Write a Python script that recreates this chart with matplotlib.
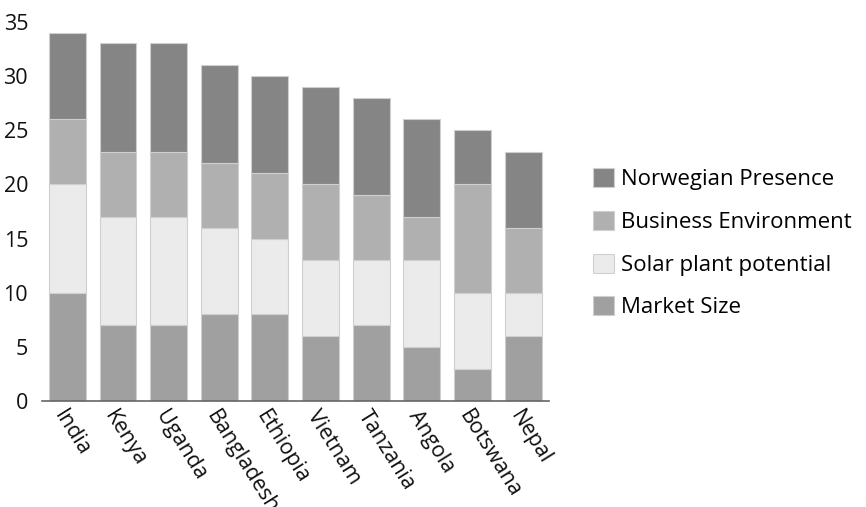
import numpy as np
import matplotlib.pyplot as plt

plt.rcParams['font.family'] = ['Open Sans', 'DejaVu Sans']

countries = ['India', 'Kenya', 'Uganda', 'Bangladesh', 'Ethiopia',
             'Vietnam', 'Tanzania', 'Angola', 'Botswana', 'Nepal']
market_size = [10, 7, 7, 8, 8, 6, 7, 5, 3, 6]
solar_potential = [10, 10, 10, 8, 7, 7, 6, 8, 7, 4]
business_env = [6, 6, 6, 6, 6, 7, 6, 4, 10, 6]
norwegian = [8, 10, 10, 9, 9, 9, 9, 9, 5, 7]

series = [
    ('Market Size', market_size, '#a0a0a0'),
    ('Solar plant potential', solar_potential, '#ebebeb'),
    ('Business Environment', business_env, '#b0b0b0'),
    ('Norwegian Presence', norwegian, '#858585'),
]

fig = plt.figure(figsize=(8.66, 5.07), dpi=100)
ax = fig.add_axes([0.0485, 0.209, 0.585, 0.748])

x = np.arange(len(countries))
bottom = np.zeros(len(countries))
handles = []
for name, vals, col in series:
    b = ax.bar(x, vals, 0.73, bottom=bottom, color=col,
               edgecolor='#cfcfcf', linewidth=0.8, label=name)
    handles.append(b)
    bottom += np.array(vals)

ax.set_xlim(-0.5, 9.5)
ax.set_ylim(0, 35)
ax.set_yticks(range(0, 36, 5))
ax.set_xticks(x)
ax.set_xticklabels(countries, rotation=-58, ha='left', va='top',
                   rotation_mode='anchor')
ax.tick_params(length=0, labelsize=15.5, colors='#111111')
ax.tick_params(axis='y', pad=10)
ax.tick_params(axis='x', pad=4)
for s in ['top', 'right', 'left']:
    ax.spines[s].set_visible(False)
ax.spines['bottom'].set_color('#666666')
ax.spines['bottom'].set_linewidth(1.2)

leg = fig.legend(handles[::-1], [s[0] for s in series][::-1],
                 loc='center left', bbox_to_anchor=(0.662, 0.52),
                 frameon=False, fontsize=16, handlelength=0.95,
                 handleheight=0.95, handletextpad=0.3, labelspacing=0.92)

fig.savefig('out.png', dpi=100)
